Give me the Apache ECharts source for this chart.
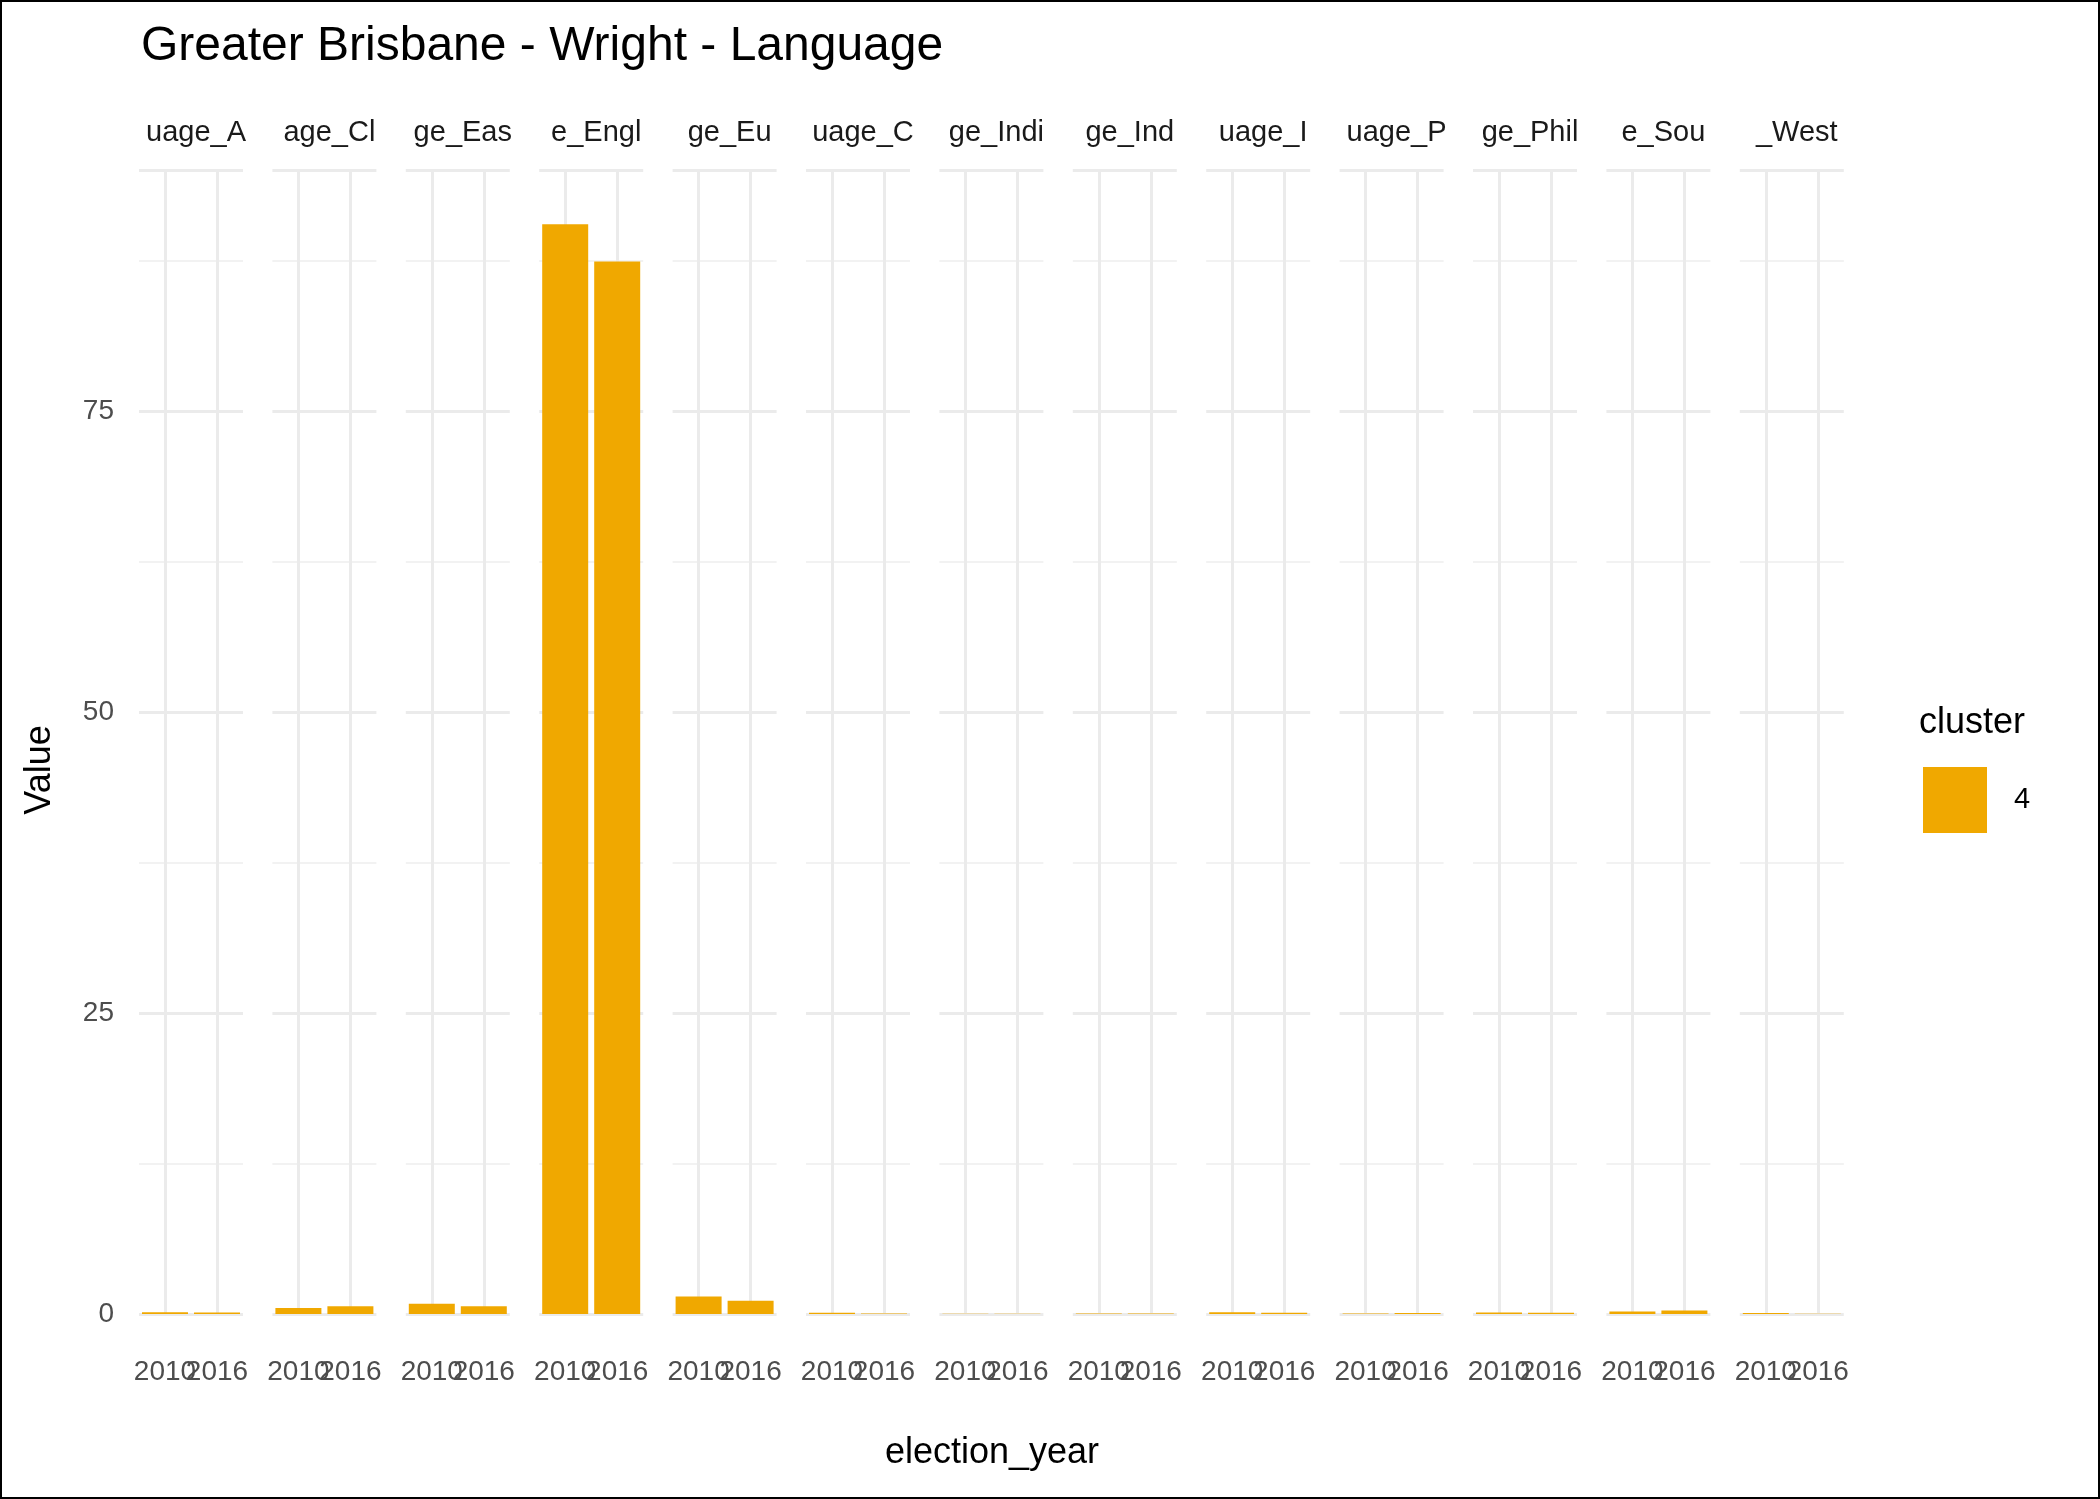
<!DOCTYPE html>
<html>
<head>
<meta charset="utf-8">
<script src="https://cdn.jsdelivr.net/npm/echarts@6/dist/echarts.min.js"></script>
<style>html,body{margin:0;padding:0;background:#fff}#main{width:2100px;height:1499px}</style>
</head>
<body>
<div id="main"></div>
<script>
// facet strip labels (as clipped in the original)
var panels = ['uage_A', 'age_Cl', 'ge_Eas', 'e_Engl', 'ge_Eu', 'uage_C', 'ge_Indi', 'ge_Ind', 'uage_I', 'uage_P', 'ge_Phil', 'e_Sou', '_West'];
var years = ['2010', '2016'];
var v2010 = [0.15, 0.5, 0.85, 90.5, 1.45, 0.1, 0.02, 0.05, 0.15, 0.05, 0.12, 0.2, 0.08];
var v2016 = [0.12, 0.65, 0.65, 87.4, 1.1, 0.05, 0.02, 0.05, 0.1, 0.08, 0.1, 0.3, 0.03];
var yTicks = [0, 25, 50, 75];

var barColor = '#F0A800';
var grids = [], xAxes = [], yAxes = [], series = [], titles = [];
var panelLeft = 134, pitch = 133.4, panelW = 114;

for (var i = 0; i < panels.length; i++) {
    var left = panelLeft + pitch * i;
    grids.push({left: left + 5, width: panelW - 10, top: 170, height: 1144});
    xAxes.push({
        type: 'category', gridIndex: i, data: years,
        axisLine: {show: false}, axisTick: {show: false},
        axisLabel: {color: '#4d4d4d', fontSize: 28, fontFamily: 'Liberation Sans', margin: 44, interval: 0}
    });
    yAxes.push({
        type: 'value', gridIndex: i, min: 0, max: 95, interval: 25,
        axisLine: {show: false}, axisTick: {show: false},
        axisLabel: {show: i == 0, color: '#4d4d4d', fontSize: 28, fontFamily: 'Liberation Sans', margin: 25,
            formatter: function (v) { return yTicks.indexOf(v) >= 0 ? v : ''; }},
        splitLine: {show: true, lineStyle: {color: '#ebebeb', width: 3}},
        minorTick: {show: false, splitNumber: 2},
        minorSplitLine: {show: true, lineStyle: {color: '#f2f2f2', width: 2}}
    });
    series.push({
        type: 'bar', xAxisIndex: i, yAxisIndex: i,
        data: [v2010[i], v2016[i]], barWidth: 46,
        itemStyle: {color: barColor},
        silent: true,
        markLine: {
            silent: true, symbol: 'none', label: {show: false},
            lineStyle: {color: '#ebebeb', width: 3, type: 'solid'},
            data: [{xAxis: '2010'}, {xAxis: '2016'}],
            z: 0
        },
        z: 3
    });
    titles.push({
        text: panels[i], left: left + panelW / 2, top: 113, textAlign: 'center',
        textStyle: {fontSize: 29, fontWeight: 'normal', color: '#1a1a1a', fontFamily: 'Liberation Sans'}
    });
}

titles.push({
    text: 'Greater Brisbane - Wright - Language', left: 136, top: 18,
    textStyle: {fontSize: 48, fontWeight: 'normal', color: '#000', fontFamily: 'Liberation Sans'}
});

var option = {
    backgroundColor: '#fff',
    animation: false,
    title: titles,
    grid: grids,
    xAxis: xAxes,
    yAxis: yAxes,
    series: series,
    graphic: [
        {type: 'rect', shape: {x: 1, y: 1, width: 2098, height: 1497}, style: {fill: 'none', stroke: '#000', lineWidth: 2}},
        {type: 'text', x: 992, y: 1453, style: {text: 'election_year', fontSize: 36, fill: '#000', fontFamily: 'Liberation Sans', align: 'center', verticalAlign: 'middle'}},
        {type: 'text', x: 40, y: 770, rotation: Math.PI / 2, style: {text: 'Value', fontSize: 36, fill: '#000', fontFamily: 'Liberation Sans', align: 'center', verticalAlign: 'middle'}},
        {type: 'text', x: 1919, y: 723, style: {text: 'cluster', fontSize: 36, fill: '#000', fontFamily: 'Liberation Sans', verticalAlign: 'middle'}},
        {type: 'rect', shape: {x: 1923, y: 767, width: 64, height: 66}, style: {fill: barColor}},
        {type: 'text', x: 2014, y: 800, style: {text: '4', fontSize: 29, fill: '#000', fontFamily: 'Liberation Sans', verticalAlign: 'middle'}}
    ]
};

var myChart = echarts.init(document.getElementById('main'));
myChart.setOption(option);
</script>
</body>
</html>
